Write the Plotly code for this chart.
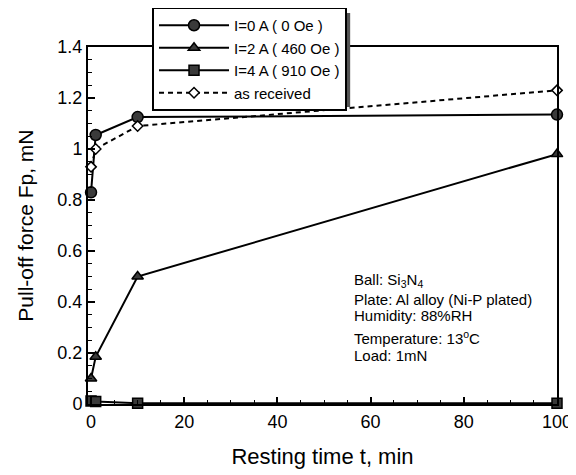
import plotly.graph_objects as go

# Data
t_vals = [0, 1, 10, 100]
i0_vals = [0.83, 1.055, 1.125, 1.135]
i2_vals = [0.10, 0.185, 0.50, 0.98]
i4_vals = [0.012, 0.01, 0.003, 0.003]
asrec_vals = [0.93, 1.00, 1.09, 1.23]

names = ["I=0 A ( 0 Oe )", "I=2 A ( 460 Oe )", "I=4 A ( 910 Oe )", "as received"]

info_lines = ["Ball: Si<sub>3</sub>N<sub>4</sub>",
              "Plate: Al alloy (Ni-P plated)",
              "Humidity: 88%RH",
              "Temperature: 13<sup>o</sup>C",
              "Load: 1mN"]
info_y = [0.345, 0.294, 0.2465, 0.185, 0.137]

FONT = "Liberation Sans, Arial, sans-serif"

fig = go.Figure()
fig.add_trace(go.Scatter(x=t_vals, y=i0_vals, name=names[0], mode="lines+markers",
                         line=dict(color="black", width=2),
                         marker=dict(symbol="circle", size=11, color="#3a3a3a",
                                     line=dict(color="black", width=1.5)),
                         cliponaxis=False))
fig.add_trace(go.Scatter(x=t_vals, y=i2_vals, name=names[1], mode="lines+markers",
                         line=dict(color="black", width=2),
                         marker=dict(symbol="triangle-up", size=10, color="#3a3a3a",
                                     line=dict(color="black", width=1.5)),
                         cliponaxis=False))
fig.add_trace(go.Scatter(x=t_vals, y=i4_vals, name=names[2], mode="lines+markers",
                         line=dict(color="black", width=2),
                         marker=dict(symbol="square", size=10, color="#3a3a3a",
                                     line=dict(color="black", width=1.5)),
                         cliponaxis=False))
fig.add_trace(go.Scatter(x=t_vals, y=asrec_vals, name=names[3], mode="lines+markers",
                         line=dict(color="black", width=2, dash="5px,4px"),
                         marker=dict(symbol="diamond", size=8, color="white",
                                     line=dict(color="black", width=1.5)),
                         cliponaxis=False))

for txt, yy in zip(info_lines, info_y):
    fig.add_annotation(x=0.563, y=yy, xref="paper", yref="paper", xanchor="left", yanchor="middle",
                       text=txt, showarrow=False, align="left",
                       font=dict(family=FONT, size=15, color="black"))

# y-axis title as annotation (placed further left than axis title would allow)
fig.add_annotation(x=-0.134, y=0.5, xref="paper", yref="paper", xanchor="center", yanchor="middle",
                   text="Pull-off force Fp, mN", textangle=-90, showarrow=False,
                   font=dict(family=FONT, size=21, color="black"))

# legend shadow
fig.add_shape(type="rect", xref="paper", yref="paper",
              x0=0.143, x1=0.559, y0=0.832, y1=1.095,
              fillcolor="#555", line=dict(width=0), layer="above")

fig.update_layout(
    width=568, height=467,
    margin=dict(l=80, r=19, t=39, b=71, autoexpand=False),
    paper_bgcolor="white", plot_bgcolor="white",
    font=dict(family=FONT, color="black"),
    showlegend=True,
    legend=dict(x=0.1365, y=1.112, xanchor="left", yanchor="top",
                bgcolor="white", bordercolor="black", borderwidth=2,
                font=dict(family=FONT, size=15, color="black"),
                tracegroupgap=0, itemwidth=70),
    xaxis=dict(range=[-0.65, 100], tickvals=[0, 20, 40, 60, 80, 100],
               ticks="inside", ticklen=7, tickwidth=1.5, tickcolor="black",
               minor=dict(dtick=5, ticks="inside", ticklen=4, tickcolor="black", tickwidth=1),
               showline=True, linecolor="black", linewidth=2, mirror=True,
               showgrid=False, zeroline=False, automargin=False,
               tickfont=dict(family=FONT, size=18, color="black"),
               title=dict(text="Resting time t, min", font=dict(family=FONT, size=22, color="black"),
                          standoff=18)),
    yaxis=dict(range=[0, 1.4], dtick=0.2, tick0=0,
               ticks="inside", ticklen=7, tickwidth=1.5, tickcolor="black",
               minor=dict(dtick=0.05, ticks="inside", ticklen=4, tickcolor="black", tickwidth=1),
               showline=True, linecolor="black", linewidth=2, mirror=True,
               showgrid=False, zeroline=False, automargin=False,
               tickfont=dict(family=FONT, size=18, color="black")),
)

fig.write_html("out.html")
